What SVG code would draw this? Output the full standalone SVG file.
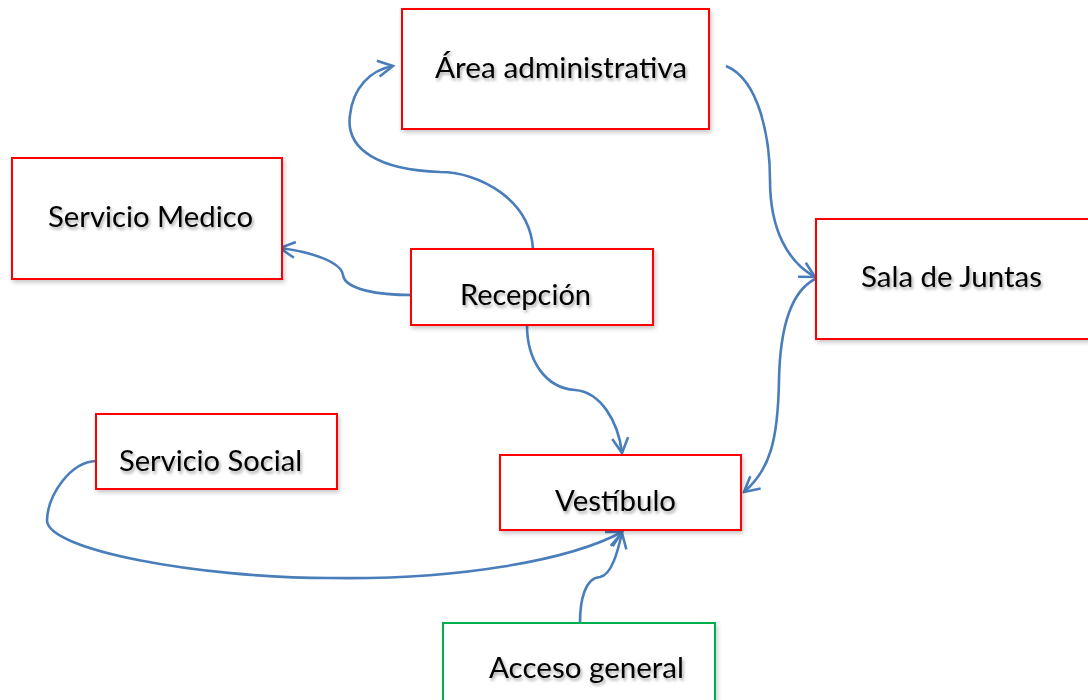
<svg xmlns="http://www.w3.org/2000/svg" width="1088" height="700" viewBox="0 0 1088 700">
  <defs>
    <filter id="txtShadow" x="-10%" y="-30%" width="120%" height="160%">
      <feDropShadow dx="1.5" dy="2.5" stdDeviation="1.5" flood-color="#000" flood-opacity="0.35"/>
    </filter>
    <filter id="boxShadow" x="-5%" y="-10%" width="110%" height="125%">
      <feDropShadow dx="1.5" dy="2.5" stdDeviation="2" flood-color="#000" flood-opacity="0.22"/>
    </filter>
    <marker id="arrow" viewBox="0 0 20 20" refX="18" refY="10" markerWidth="20" markerHeight="20" markerUnits="userSpaceOnUse" orient="auto">
      <path d="M3,2 L18,10 L3,18" fill="none" stroke="#4a7ebb" stroke-width="2.6" stroke-linejoin="miter"/>
    </marker>
  </defs>
  <style>
    .box { fill: #fff; stroke: #ff0000; stroke-width: 2; filter: url(#boxShadow); }
    .box.green { stroke: #00b050; }
    .label { font-family: "Lato", "Liberation Sans", sans-serif; font-size: 28.5px; fill: #000; filter: url(#txtShadow); }
    .conn { fill: none; stroke: #4a7ebb; stroke-width: 2.6; marker-end: url(#arrow); }
  </style>
  <rect width="1088" height="700" fill="#fff"/>

  <g id="connectors">
    <!-- Recepción to Área administrativa -->
    <path class="conn" d="M533,249 C530,200 480,172 440,172 C380,170 345,150 350,115 C353,88 370,70 393,66"/>
    <!-- Recepción to Servicio Medico -->
    <path class="conn" d="M411,295 C380,295 345,290 343,275 C341,262 312,252 280,248"/>
    <!-- Área administrativa to Sala de Juntas -->
    <path class="conn" d="M726,66 C760,80 770,140 770,180 C770,230 788,262 815,277"/>
    <!-- Sala de Juntas to Vestíbulo -->
    <path class="conn" d="M815,279 C790,292 780,330 779,380 C778,440 770,470 744,492"/>
    <!-- Recepción to Vestíbulo -->
    <path class="conn" d="M527,325 C527,360 545,388 575,390 C600,392 618,420 622,453"/>
    <!-- Servicio Social to Vestíbulo -->
    <path class="conn" d="M96,461 C70,462 48,495 47,520 C46,550 200,578 330,578 C460,580 570,560 622,532"/>
    <!-- Acceso general to Vestíbulo -->
    <path class="conn" d="M580,623 C580,600 585,578 600,577 C612,575 618,550 622,533"/>
  </g>

  <g id="area-administrativa">
    <rect class="box" x="402" y="9" width="307" height="120"/>
    <text class="label" x="435" y="78" textLength="252" lengthAdjust="spacingAndGlyphs">Área administrativa</text>
  </g>
  <g id="servicio-medico">
    <rect class="box" x="12" y="158" width="270" height="121"/>
    <text class="label" x="48" y="227" textLength="205" lengthAdjust="spacingAndGlyphs">Servicio Medico</text>
  </g>
  <g id="recepcion">
    <rect class="box" x="411" y="249" width="242" height="76"/>
    <text class="label" x="460" y="305" textLength="131" lengthAdjust="spacingAndGlyphs">Recepción</text>
  </g>
  <g id="sala-de-juntas">
    <rect class="box" x="816" y="219" width="280" height="120"/>
    <text class="label" x="861" y="287" textLength="181" lengthAdjust="spacingAndGlyphs">Sala de Juntas</text>
  </g>
  <g id="servicio-social">
    <rect class="box" x="96" y="414" width="241" height="75"/>
    <text class="label" x="119" y="471" textLength="183" lengthAdjust="spacingAndGlyphs">Servicio Social</text>
  </g>
  <g id="vestibulo">
    <rect class="box" x="500" y="455" width="241" height="75"/>
    <text class="label" x="555" y="511" textLength="121" lengthAdjust="spacingAndGlyphs">Vestíbulo</text>
  </g>
  <g id="acceso-general">
    <rect class="box green" x="443" y="623" width="272" height="80"/>
    <text class="label" x="489" y="678" textLength="195" lengthAdjust="spacingAndGlyphs">Acceso general</text>
  </g>
</svg>
